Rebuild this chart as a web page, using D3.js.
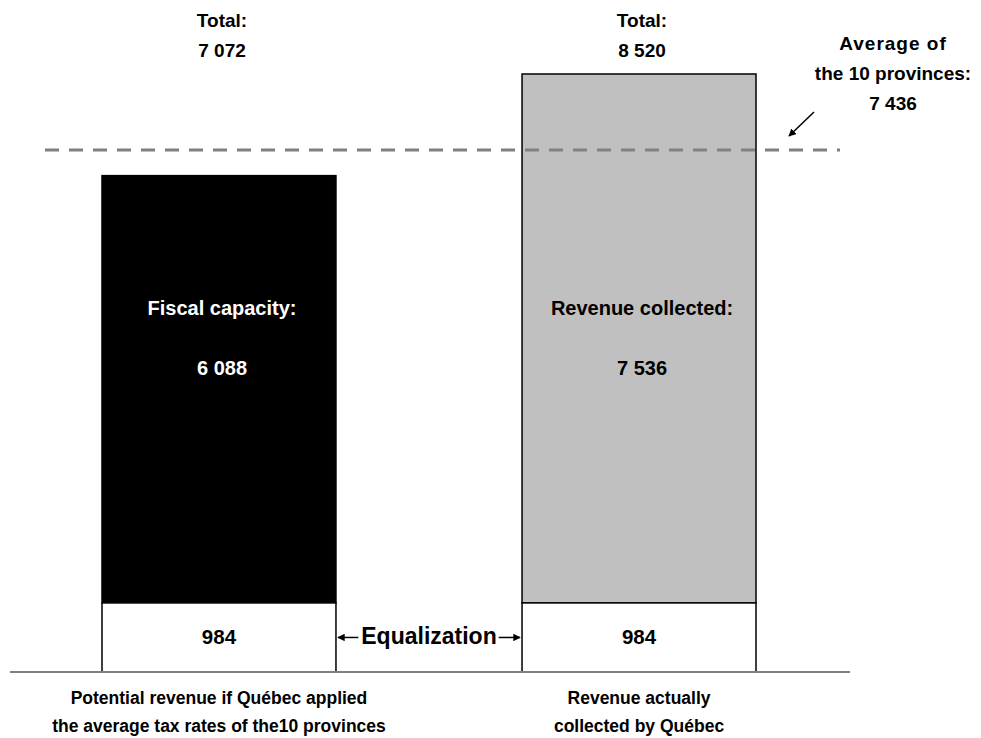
<!DOCTYPE html>
<html>
<head>
<meta charset="utf-8">
<script src="https://cdn.jsdelivr.net/npm/d3@7"></script>
<style>
  html, body { margin: 0; padding: 0; background: #fff; }
  svg { display: block; }
  text { font-family: "Liberation Sans", Arial, sans-serif; font-weight: bold; }
</style>
</head>
<body>
<svg id="chart" width="981" height="738"></svg>
<script>
// Per-capita amounts ($)
const categories = [
  ["Potential revenue if Québec applied", "the average tax rates of the10 provinces"],
  ["Revenue actually", "collected by Québec"]
];
const segmentNames = ["Fiscal capacity:", "Revenue collected:"];
const equalization = [984, 984];
const ownRevenue = [6088, 7536];
const totals = [7072, 8520];
const provincialAverage = 7436;
const averageLabel = ["Average of", "the 10 provinces:"];

const fmt = d3.formatLocale({ decimal: ",", thousands: " ", grouping: [3], currency: ["", " $"] }).format(",d");

const svg = d3.select("#chart");

const x = d3.scaleBand()
  .domain([0, 1])
  .range([102, 756])
  .paddingInner(0.443)
  .paddingOuter(0);

const y = d3.scaleLinear()
  .domain([0, d3.max(totals)])
  .range([672, 74]);

const bw = x.bandwidth();
const fills = ["#000000", "#c0c0c0"];
const labelColors = ["#ffffff", "#000000"];

// Upper part of each bar
svg.append("g").selectAll("rect")
  .data(d3.range(2))
  .join("rect")
  .attr("x", i => x(i))
  .attr("y", i => y(equalization[i] + ownRevenue[i]))
  .attr("width", bw)
  .attr("height", i => y(equalization[i]) - y(equalization[i] + ownRevenue[i]))
  .attr("fill", i => fills[i])
  .attr("stroke", "#000")
  .attr("stroke-width", 1.5);

// Equalization slice at the base of each bar
svg.append("g").selectAll("rect")
  .data(d3.range(2))
  .join("rect")
  .attr("x", i => x(i))
  .attr("y", i => y(equalization[i]))
  .attr("width", bw)
  .attr("height", i => y(0) - y(equalization[i]))
  .attr("fill", "#fff")
  .attr("stroke", "#000")
  .attr("stroke-width", 1.5);

// Baseline
svg.append("line")
  .attr("x1", 10).attr("x2", 850)
  .attr("y1", y(0)).attr("y2", y(0))
  .attr("stroke", "#808080")
  .attr("stroke-width", 2);

// Average line
svg.append("line")
  .attr("x1", 45).attr("x2", 840)
  .attr("y1", y(provincialAverage)).attr("y2", y(provincialAverage))
  .attr("stroke", "#808080")
  .attr("stroke-width", 3)
  .attr("stroke-dasharray", "14,10");

// Totals above the bars
const tot = svg.append("g").selectAll("g")
  .data(d3.range(2))
  .join("g")
  .attr("transform", i => `translate(${x(i) + bw / 2 + 3},0)`);
tot.append("text").attr("y", 27).attr("text-anchor", "middle")
  .attr("font-size", 19).text("Total:");
tot.append("text").attr("y", 57).attr("text-anchor", "middle")
  .attr("font-size", 19).text(i => fmt(totals[i]));

// Segment labels inside the bars
const inner = svg.append("g").selectAll("g")
  .data(d3.range(2))
  .join("g")
  .attr("transform", i => `translate(${x(i) + bw / 2},0)`);
inner.append("text").attr("x", 3).attr("y", 315).attr("text-anchor", "middle")
  .attr("font-size", 20).attr("fill", i => labelColors[i])
  .text(i => segmentNames[i]);
inner.append("text").attr("x", 3).attr("y", 375).attr("text-anchor", "middle")
  .attr("font-size", 20).attr("fill", i => labelColors[i])
  .text(i => fmt(ownRevenue[i]));
inner.append("text")
  .attr("y", 644)
  .attr("text-anchor", "middle")
  .attr("font-size", 20.5)
  .text(i => fmt(equalization[i]));

// Category labels below the baseline
const cat = svg.append("g").selectAll("g")
  .data(d3.range(2))
  .join("g")
  .attr("transform", i => `translate(${x(i) + bw / 2},0)`);
cat.append("text").attr("y", 704).attr("text-anchor", "middle")
  .attr("font-size", 17.5).text(i => categories[i][0]);
cat.append("text").attr("y", 732).attr("text-anchor", "middle")
  .attr("font-size", 17.5).text(i => categories[i][1]);

// Arrowhead marker
const defs = svg.append("defs");
defs.append("marker")
  .attr("id", "head")
  .attr("viewBox", "0 0 10 10")
  .attr("refX", 9).attr("refY", 5)
  .attr("markerWidth", 5).attr("markerHeight", 5)
  .attr("markerUnits", "strokeWidth")
  .attr("orient", "auto")
  .append("path")
  .attr("d", "M0,0 L10,5 L0,10 Z")
  .attr("fill", "#000");

// Equalization label with arrows reaching both bars
const eqY = (y(equalization[0]) + y(0)) / 2;
const leftEdge = x(0) + bw;
const rightEdge = x(1);
const mid = (leftEdge + rightEdge) / 2;
const eqText = svg.append("text")
  .attr("x", mid)
  .attr("y", 644)
  .attr("text-anchor", "middle")
  .attr("font-size", 23)
  .text("Equalization");
const eqW = eqText.node().getComputedTextLength();
svg.append("line")
  .attr("x1", mid - eqW / 2 - 3).attr("x2", leftEdge + 2)
  .attr("y1", eqY).attr("y2", eqY)
  .attr("stroke", "#000").attr("stroke-width", 1.5)
  .attr("marker-end", "url(#head)");
svg.append("line")
  .attr("x1", mid + eqW / 2 + 2).attr("x2", rightEdge - 2)
  .attr("y1", eqY).attr("y2", eqY)
  .attr("stroke", "#000").attr("stroke-width", 1.5)
  .attr("marker-end", "url(#head)");

// Average annotation
const avg = svg.append("g").attr("transform", "translate(893,0)");
avg.append("text").attr("y", 50).attr("text-anchor", "middle")
  .attr("font-size", 19).attr("letter-spacing", 1).text(averageLabel[0]);
avg.append("text").attr("y", 80).attr("text-anchor", "middle")
  .attr("font-size", 19).text(averageLabel[1]);
avg.append("text").attr("y", 110).attr("text-anchor", "middle")
  .attr("font-size", 19).text(fmt(provincialAverage));
svg.append("line")
  .attr("x1", 814).attr("y1", 112)
  .attr("x2", 789).attr("y2", 136)
  .attr("stroke", "#000").attr("stroke-width", 1.5)
  .attr("marker-end", "url(#head)");
</script>
</body>
</html>
